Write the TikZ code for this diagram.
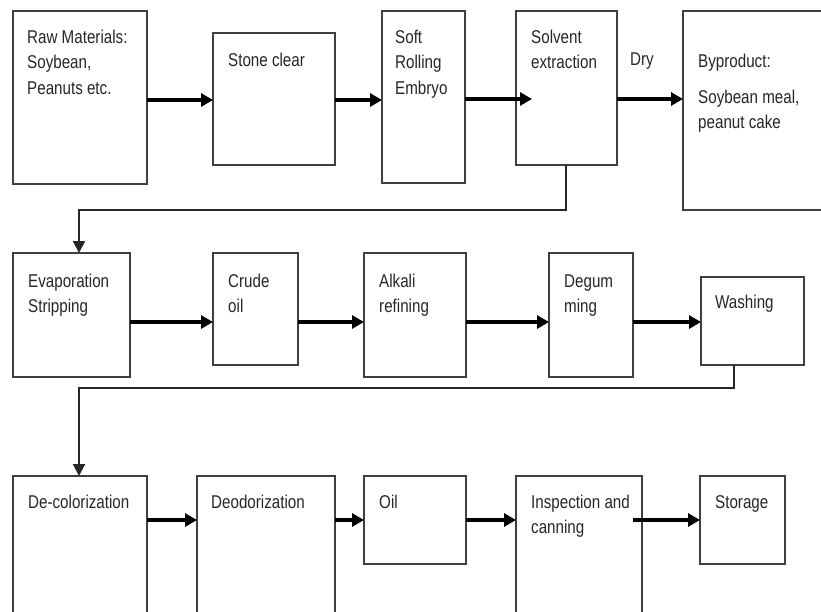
\documentclass[tikz,border=0pt]{standalone}
\usepackage{fontspec}
\newfontfamily\lab[FakeStretch=0.82]{Liberation Sans}
\usetikzlibrary{arrows.meta}
\begin{document}
\begin{tikzpicture}[x=1pt,y=-1pt,
  box/.style={draw=black!75, line width=2pt, inner sep=0pt, outer sep=0pt, anchor=north west},
  txt/.style={anchor=base west, inner sep=0pt, text=black!85, align=left,
    font={\lab\fontsize{18.5}{25.5}\selectfont}},
  arr/.style={draw=black, line width=3.2pt, -{Triangle[length=12pt,width=13pt]}},
  arrthin/.style={draw=black!85, line width=2.2pt, -{Triangle[length=12pt,width=12pt]}}]
\useasboundingbox (0,0) rectangle (821,611);
\clip (0,0) rectangle (821,611);
% row 1
\node[box, minimum width=134pt, minimum height=173pt] (raw) at (13,11) {};
\node[box, minimum width=122pt, minimum height=132pt] (stone) at (213,33) {};
\node[box, minimum width=83pt, minimum height=172pt] (soft) at (382,11) {};
\node[box, minimum width=101pt, minimum height=154pt] (solvent) at (516,11) {};
\node[box, minimum width=160pt, minimum height=199pt] (byprod) at (683,11) {};
% row 2
\node[box, minimum width=117pt, minimum height=124pt] (evap) at (13,253) {};
\node[box, minimum width=85pt, minimum height=112pt] (crude) at (213,253) {};
\node[box, minimum width=102pt, minimum height=124pt] (alkali) at (364,253) {};
\node[box, minimum width=84pt, minimum height=124pt] (degum) at (549,253) {};
\node[box, minimum width=103pt, minimum height=88pt] (wash) at (701,277) {};
% row 3
\node[box, minimum width=134pt, minimum height=160pt] (decol) at (13,476) {};
\node[box, minimum width=138pt, minimum height=160pt] (deodor) at (197,476) {};
\node[box, minimum width=102pt, minimum height=88pt] (oil) at (364,476) {};
\node[box, minimum width=126pt, minimum height=160pt] (insp) at (516,476) {};
\node[box, minimum width=85pt, minimum height=88pt] (storage) at (700,476) {};
% texts (anchor = baseline of last line)
\node[txt] (traw) at (27,94) {Raw Materials:\\Soybean,\\Peanuts etc.};
\node[txt] (tstone) at (228,66) {Stone clear};
\node[txt] (tsoft) at (395,94) {Soft\\Rolling\\Embryo};
\node[txt] (tsolv) at (531,68.5) {Solvent\\extraction};
\node[txt] (tdry) at (630,65) {Dry};
\node[txt] (tby1) at (698,67) {Byproduct:};
\node[txt] (tby2) at (698,128.5) {Soybean meal,\\peanut cake};
\node[txt] (tevap) at (28,312.5) {Evaporation\\Stripping};
\node[txt] (tcrude) at (228,312.5) {Crude\\oil};
\node[txt] (talk) at (379,312.5) {Alkali\\refining};
\node[txt] (tdeg) at (564,312.5) {Degum\\ming};
\node[txt] (twash) at (715,308) {Washing};
\node[txt] (tdecol) at (28,508) {De-colorization};
\node[txt] (tdeo) at (211,508) {Deodorization};
\node[txt] (toil) at (379,508) {Oil};
\node[txt] (tinsp) at (531,533.5) {Inspection and\\canning};
\node[txt] (tstor) at (715,508) {Storage};
% helper coordinates
\coordinate (r1) at (0,100);
\coordinate (r1b) at (0,99);
\coordinate (solin) at (532,99);
\coordinate (r2) at (0,322);
\coordinate (r3) at (0,520);
\coordinate (inspout) at (633,520);
\coordinate (t1) at (566,210);
\coordinate (k1) at (79,210);
\coordinate (t2) at (734,388);
\coordinate (k2) at (79,388);
% row 1 arrows
\draw[arr] (raw.east |- r1) -- (stone.west |- r1);
\draw[arr] (stone.east |- r1) -- (soft.west |- r1);
\draw[arr] (soft.east |- r1b) -- (solin);
\draw[arr] (solvent.east |- r1b) -- (byprod.west |- r1b);
% row 2 arrows
\draw[arr] (evap.east |- r2) -- (crude.west |- r2);
\draw[arr] (crude.east |- r2) -- (alkali.west |- r2);
\draw[arr] (alkali.east |- r2) -- (degum.west |- r2);
\draw[arr] (degum.east |- r2) -- (wash.west |- r2);
% row 3 arrows
\draw[arr] (decol.east |- r3) -- (deodor.west |- r3);
\draw[arr] (deodor.east |- r3) -- (oil.west |- r3);
\draw[arr] (oil.east |- r3) -- (insp.west |- r3);
\draw[arr] (inspout) -- (storage.west |- inspout);
% returns
\draw[arrthin] (solvent.south -| t1) |- (k1) -- (evap.north -| k1);
\draw[arrthin] (wash.south -| t2) |- (k2) -- (decol.north -| k2);
\end{tikzpicture}
\end{document}
